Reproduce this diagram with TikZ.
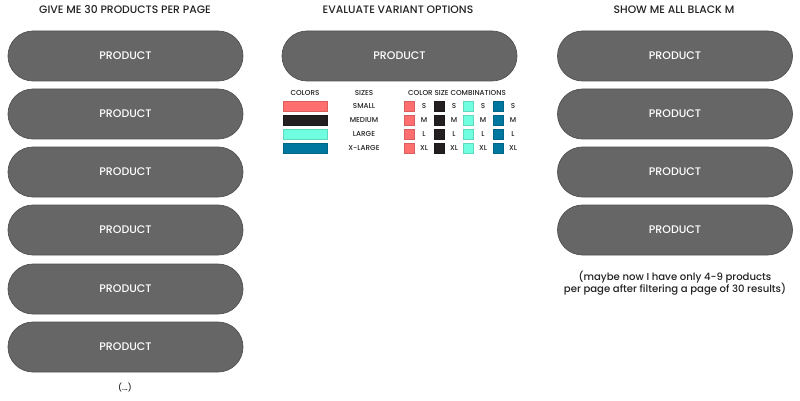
\documentclass[tikz,border=0pt]{standalone}
\usepackage{fontspec}
\setmainfont{Poppins}[UprightFont={* Medium}]
\definecolor{pillfill}{HTML}{666666}
\definecolor{pilldraw}{HTML}{505050}
\definecolor{cpink}{HTML}{FF6F6F}
\definecolor{cblack}{HTML}{231F20}
\definecolor{caqua}{HTML}{6FFFE0}
\definecolor{cblue}{HTML}{00779F}
\definecolor{txt}{HTML}{222222}
\tikzset{
  pill/.style={draw=pilldraw, fill=pillfill, line width=0.7pt, rounded corners=25pt,
    minimum width=235pt, minimum height=50pt, inner sep=0pt, text=white,
    font=\fontsize{11}{13}\selectfont},
  title/.style={text=txt, font=\fontsize{10.8}{13}\selectfont, inner sep=0pt},
  hdr/.style={text=txt, font=\fontsize{7.2}{8}\selectfont, inner sep=0pt},
  swatch/.style={minimum width=44pt, minimum height=10pt, inner sep=0pt, draw=#1!85!black, line width=0.3pt, fill=#1},
  sq/.style={minimum width=10pt, minimum height=10pt, inner sep=0pt, draw=#1!85!black, line width=0.3pt, fill=#1},
  note/.style={text=txt, font=\fontsize{10.1}{12.5}\selectfont, align=center, inner sep=0pt}
}
\begin{document}
\begin{tikzpicture}[x=1pt,y=-1pt]
\useasboundingbox (0,0) rectangle (800,401);
% titles
\node[title] (t1) at (125,10) {GIVE ME 30 PRODUCTS PER PAGE};
\node[title] (t2) at (398,10) {EVALUATE VARIANT OPTIONS};
\node[title] (t3) at (674,10) {SHOW ME ALL BLACK M};
% left column
\foreach \i/\y in {1/56,2/114,3/172,4/230,5/289,6/347}
  \node[pill] (l\i) at (125.5,\y) {PRODUCT};
\node[hdr, font=\fontsize{8}{10}\selectfont] (dots) at (125,388) {(...)};
% middle
\node[pill] (m1) at (399.5,56) {PRODUCT};
\node[hdr] (hc) at (305,93) {COLORS};
\node[hdr] (hs) at (364,93) {SIZES};
\node[hdr] (hcs) at (457,93) {COLOR SIZE COMBINATIONS};
\foreach \c/\s/\y [count=\k] in {cpink/SMALL/106,cblack/MEDIUM/120,caqua/LARGE/134,cblue/X-LARGE/148}{
  \node[swatch=\c] (sw\k) at (305,\y) {};
  \node[hdr] (sz\k) at (364,\y) {\s};
}
\foreach \c/\x [count=\j] in {cpink/409,cblack/439,caqua/468,cblue/498}{
  \foreach \s/\y [count=\k] in {S/106,M/120,L/134,XL/148}{
    \node[sq=\c] (q\j\k) at (\x,\y) {};
    \node[hdr] (ql\j\k) at (\x+15,\y) {\s};
  }
}
% right
\foreach \i/\y in {1/56,2/114,3/172,4/230}
  \node[pill] (r\i) at (675,\y) {PRODUCT};
\node[note] (n) at (675,283) {(maybe now I have only 4-9 products\\per page after filtering a page of 30 results)};
\end{tikzpicture}
\end{document}
